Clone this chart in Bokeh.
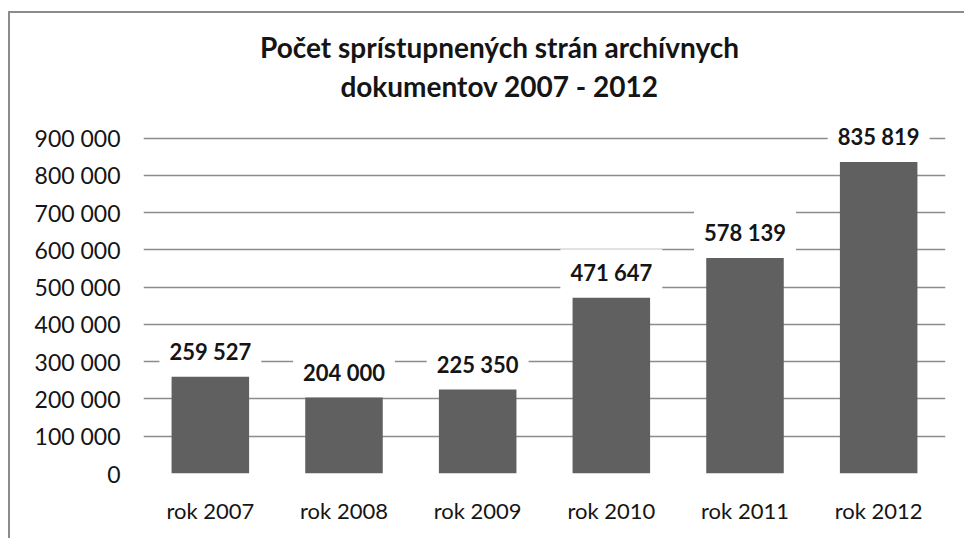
from bokeh.plotting import figure
from bokeh.models import FixedTicker, Label, Range1d, FactorRange
from bokeh.embed import file_html
from bokeh.resources import INLINE

categories = ["rok 2007", "rok 2008", "rok 2009", "rok 2010", "rok 2011", "rok 2012"]
values = [259527, 204000, 225350, 471647, 578139, 835819]
value_labels = ["259 527", "204 000", "225 350", "471 647", "578 139", "835 819"]
y_ticks = [0, 100000, 200000, 300000, 400000, 500000, 600000, 700000, 800000, 900000]
y_tick_labels = ["0", "100 000", "200 000", "300 000", "400 000", "500 000",
                 "600 000", "700 000", "800 000", "900 000"]
title_lines = ["Počet sprístupnených strán archívnych", "dokumentov 2007 - 2012"]

FONT = "Lato"
GRID = "#8c8c8c"
TXT = "#151515"

# the frame reaches the top of the canvas so that the title and the top value label are not clipped
p = figure(width=956, height=527, x_range=FactorRange(*categories),
           y_range=Range1d(0, 1234000), output_backend="svg", toolbar_location=None,
           min_border_left=133, min_border_right=21, min_border_top=0, min_border_bottom=67)
p.styles = {"border-left": "2px solid #8c8c8c", "border-top": "2px solid #8c8c8c",
            "margin-top": "11px", "margin-left": "8px"}
p.outline_line_color = None
p.background_fill_color = "white"
p.border_fill_color = "white"

p.vbar(x=categories, top=values, width=0.58, fill_color="#606060", line_color=None)

p.xgrid.grid_line_color = None
p.ygrid.ticker = FixedTicker(ticks=y_ticks)
p.ygrid.grid_line_color = GRID
p.ygrid.grid_line_width = 1.5

p.yaxis.ticker = FixedTicker(ticks=y_ticks)
p.yaxis.major_label_overrides = {t: l for t, l in zip(y_ticks, y_tick_labels)}
p.yaxis.axis_line_color = None
p.yaxis.major_tick_line_color = None
p.yaxis.minor_tick_line_color = None
p.yaxis.major_label_standoff = 17
p.yaxis.major_label_text_font = FONT
p.yaxis.major_label_text_font_size = "23px"
p.yaxis.major_label_text_color = TXT

p.xaxis.axis_line_color = None
p.xaxis.major_tick_line_color = None
p.xaxis.major_label_standoff = 17
p.xaxis.major_label_text_font = FONT
p.xaxis.major_label_text_font_size = "22px"
p.xaxis.major_label_text_color = TXT

# factor i sits at synthetic coordinate i + 0.5 on a FactorRange
for i, (v, t) in enumerate(zip(values, value_labels)):
    p.add_layout(Label(x=i + 0.5, y=v, text=t, y_offset=25, text_align="center",
                       text_baseline="middle", text_font=FONT, text_font_style="bold",
                       text_font_size="22px", text_color=TXT,
                       background_fill_color="white", padding=10))

for i, line in enumerate(title_lines):
    p.add_layout(Label(x=356, y=427 - 39 * i, x_units="screen", y_units="screen",
                       text=line, text_align="center", text_baseline="middle",
                       text_font=FONT, text_font_style="bold", text_font_size="28px",
                       text_color=TXT))

open("out.html", "w").write(file_html(p, INLINE))
